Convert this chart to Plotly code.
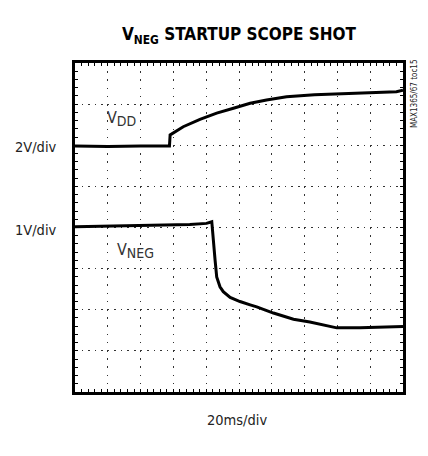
import plotly.graph_objects as go

# Time axis in ms (20 ms/div), vertical values in screen divisions
vdd_t = [0, 20, 40, 57.6, 58, 66, 76.2, 86.4, 96.6, 106.8, 116.8, 129, 146, 163.4, 181.8, 196, 200]
vdd_v = [5.98, 5.97, 5.98, 5.98, 6.25, 6.45, 6.63, 6.78, 6.90, 7.02, 7.10, 7.18, 7.23, 7.26, 7.28, 7.30, 7.34]

vneg_t = [0, 26, 51.8, 70, 80.2, 83.4, 85.4, 86.4, 88.4, 90.4, 94.6, 100.6, 106.8, 110.8,
          121, 133.2, 143.2, 153.4, 159.6, 173.8, 194, 200]
vneg_v = [4.02, 4.04, 4.05, 4.07, 4.10, 4.14, 3.21, 2.80, 2.56, 2.44, 2.30, 2.20, 2.12, 2.07,
          1.92, 1.77, 1.70, 1.61, 1.56, 1.56, 1.59, 1.59]

title_text = "<b>V<sub>NEG</sub> STARTUP SCOPE SHOT</b>"
vdd_label = "V<sub><span style='font-size:14px'>DD</span></sub>"
vneg_label = "V<sub><span style='font-size:14px'>NEG</span></sub>"
left_labels = ["2V/div", "1V/div"]
x_label = "20ms/div"
side_label = "MAX1365/67 toc15"

FONT = "DejaVu Sans Condensed, Roboto Condensed, Liberation Sans Narrow, Roboto, sans-serif"

fig = go.Figure()
fig.add_trace(go.Scatter(x=vdd_t, y=vdd_v, mode="lines",
                         line=dict(color="black", width=3), showlegend=False, hoverinfo="skip"))
fig.add_trace(go.Scatter(x=vneg_t, y=vneg_v, mode="lines",
                         line=dict(color="black", width=3), showlegend=False, hoverinfo="skip"))

fig.update_xaxes(range=[0, 200], dtick=20, showticklabels=False,
                 showgrid=True, gridcolor="#333", gridwidth=1, griddash="1.5px,6.7px",
                 showline=True, linecolor="black", linewidth=3, mirror="allticks",
                 ticks="inside", ticklen=3, tickcolor="black",
                 minor=dict(dtick=4, ticks="inside", ticklen=3, tickcolor="black", showgrid=False),
                 zeroline=False, fixedrange=True)
fig.update_yaxes(range=[0, 8], dtick=1, showticklabels=False,
                 showgrid=True, gridcolor="#333", gridwidth=1, griddash="1.5px,5.06px",
                 showline=True, linecolor="black", linewidth=3, mirror="allticks",
                 ticks="inside", ticklen=3, tickcolor="black",
                 minor=dict(dtick=0.2, ticks="inside", ticklen=3, tickcolor="black", showgrid=False),
                 zeroline=False, fixedrange=True)

ann = []
ann.append(dict(text=title_text, xref="paper", yref="paper", x=0.503, y=1.085,
                showarrow=False, font=dict(family=FONT, size=17, color="black"),
                xanchor="center", yanchor="middle"))
ann.append(dict(text=left_labels[0], xref="paper", yref="y", x=-0.189, y=5.95,
                showarrow=False, font=dict(family=FONT, size=14.5, color="#222"),
                xanchor="left", yanchor="middle"))
ann.append(dict(text=left_labels[1], xref="paper", yref="y", x=-0.189, y=3.95,
                showarrow=False, font=dict(family=FONT, size=14.5, color="#222"),
                xanchor="left", yanchor="middle"))
ann.append(dict(text=x_label, xref="paper", yref="paper", x=0.494, y=-0.085,
                showarrow=False, font=dict(family=FONT, size=14.5, color="#222"),
                xanchor="center", yanchor="middle"))
ann.append(dict(text=vdd_label, xref="x", yref="y", x=18.4, y=6.65,
                showarrow=False, font=dict(family=FONT, size=16, color="#333"),
                xanchor="left", yanchor="middle"))
ann.append(dict(text=vneg_label, xref="x", yref="y", x=24.4, y=3.45,
                showarrow=False, font=dict(family=FONT, size=16, color="#333"),
                xanchor="left", yanchor="middle"))
ann.append(dict(text=side_label, xref="paper", yref="paper", x=1.037, y=0.906,
                showarrow=False, textangle=-90, font=dict(family=FONT, size=8, color="#222"),
                xanchor="center", yanchor="middle"))

fig.update_layout(width=428, height=456, margin=dict(l=75, r=25, t=63, b=64),
                  paper_bgcolor="white", plot_bgcolor="white", annotations=ann,
                  hovermode=False)

fig.write_html("out.html", config={"displayModeBar": False},
               post_script="document.body.style.margin='0';")
